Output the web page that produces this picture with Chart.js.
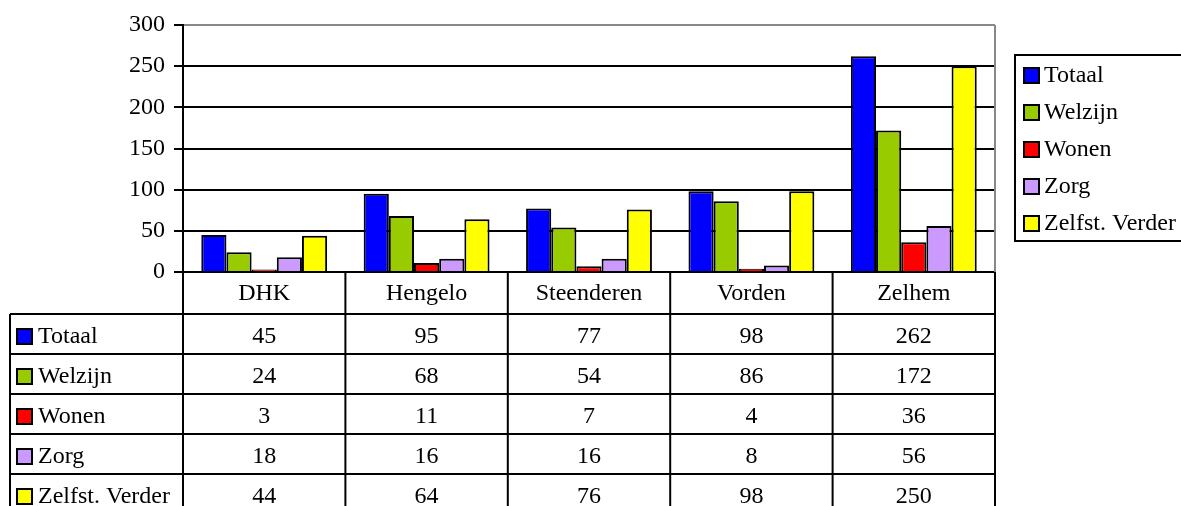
<!DOCTYPE html>
<html>
<head>
<meta charset="utf-8">
<script src="https://cdn.jsdelivr.net/npm/chart.js@4"></script>
<style>
  html, body { margin: 0; padding: 0; background: #fff; }
  #wrap { width: 1181px; height: 506px; position: relative; }
</style>
</head>
<body>
<div id="wrap"><canvas id="chart" width="1181" height="506"></canvas></div>
<script>
// Chart data
const categories = ['DHK', 'Hengelo', 'Steenderen', 'Vorden', 'Zelhem'];
const totaal = [45, 95, 77, 98, 262];
const welzijn = [24, 68, 54, 86, 172];
const wonen = [3, 11, 7, 4, 36];
const zorg = [18, 16, 16, 8, 56];
const zelfstVerder = [44, 64, 76, 98, 250];
const seriesNames = ['Totaal', 'Welzijn', 'Wonen', 'Zorg', 'Zelfst. Verder'];
const seriesColors = ['#0000FF', '#99CC00', '#FF0000', '#CC99FF', '#FFFF00'];
const yTicks = [0, 50, 100, 150, 200, 250, 300];

const seriesData = [totaal, welzijn, wonen, zorg, zelfstVerder];
const FAMILY = "'Liberation Serif', 'Times New Roman', serif";
const FONT = '24px ' + FAMILY;

// Data table under the plot + legend box on the right
const tablePlugin = {
  id: 'dataTable',
  afterDraw(chart) {
    const ctx = chart.ctx;
    const area = chart.chartArea;
    const xs = chart.scales.x;
    const half = (area.right - area.left) / categories.length / 2;
    const headerBottom = area.bottom + 42;
    const rowH = 40;
    const tableLeft = 10;
    const tableBottom = chart.height + 10;

    ctx.save();
    // gray plot border on the right
    ctx.strokeStyle = '#888';
    ctx.lineWidth = 2;
    ctx.beginPath();
    ctx.moveTo(area.right, area.top);
    ctx.lineTo(area.right, area.bottom);
    ctx.stroke();

    ctx.strokeStyle = '#000';
    ctx.lineWidth = 2;
    ctx.beginPath();
    // column dividers
    for (let i = 0; i <= categories.length; i++) {
      const x = i < categories.length ? xs.getPixelForTick(i) - half : xs.getPixelForTick(i - 1) + half;
      ctx.moveTo(x, area.bottom);
      ctx.lineTo(x, tableBottom);
    }
    ctx.moveTo(tableLeft, headerBottom);
    ctx.lineTo(tableLeft, tableBottom);
    // row lines
    for (let r = 0; r < seriesData.length; r++) {
      const y = headerBottom + r * rowH;
      ctx.moveTo(tableLeft, y);
      ctx.lineTo(area.right, y);
    }
    ctx.stroke();

    ctx.font = FONT;
    ctx.fillStyle = '#000';
    ctx.textAlign = 'center';
    ctx.textBaseline = 'middle';
    categories.forEach((c, i) => {
      ctx.fillText(c, xs.getPixelForTick(i), (area.bottom + headerBottom) / 2 + 1);
    });

    seriesData.forEach((vals, r) => {
      const yMid = headerBottom + r * rowH + rowH / 2 + 3;
      // key square + name
      ctx.fillStyle = seriesColors[r];
      ctx.fillRect(tableLeft + 7, yMid - 8, 15, 15);
      ctx.strokeRect(tableLeft + 7, yMid - 8, 15, 15);
      ctx.fillStyle = '#000';
      ctx.textAlign = 'left';
      ctx.fillText(seriesNames[r], tableLeft + 28, yMid);
      ctx.textAlign = 'center';
      vals.forEach((v, i) => {
        ctx.fillText(String(v), xs.getPixelForTick(i), yMid);
      });
    });

    // legend box
    const lx = 1015, ly = 55, lw = 180, lh = 186;
    ctx.fillStyle = '#fff';
    ctx.fillRect(lx, ly, lw, lh);
    ctx.strokeRect(lx, ly, lw, lh);
    seriesNames.forEach((name, i) => {
      const cy = ly + 20 + i * 37;
      ctx.fillStyle = seriesColors[i];
      ctx.fillRect(lx + 9, cy - 7, 15, 15);
      ctx.strokeRect(lx + 9, cy - 7, 15, 15);
      ctx.fillStyle = '#000';
      ctx.textAlign = 'left';
      ctx.fillText(name, lx + 29, cy + 1);
    });
    ctx.restore();
  }
};

const ctx = document.getElementById('chart').getContext('2d');
const chart = new Chart(ctx, {
  type: 'bar',
  data: {
    labels: categories,
    datasets: seriesData.map((d, i) => ({
      label: seriesNames[i],
      data: d,
      backgroundColor: seriesColors[i],
      borderColor: '#000',
      borderWidth: { top: 2, bottom: 0, left: 2, right: 2 },
      borderSkipped: false,
      inflateAmount: 0,
      barPercentage: 1,
      categoryPercentage: 0.775
    }))
  },
  options: {
    responsive: false,
    animation: false,
    layout: { padding: { top: 25, right: 186, bottom: 234, left: 0 } },
    scales: {
      x: { display: false },
      y: {
        min: 0,
        max: 300,
        afterBuildTicks: s => { s.ticks = yTicks.map(v => ({ value: v })); },
        afterFit: s => { s.width = 183; },
        border: { display: true, color: '#000', width: 2 },
        grid: {
          color: c => (c.tick && c.tick.value === 300 ? '#888' : '#000'),
          lineWidth: 2,
          tickLength: 9,
          tickColor: '#000'
        },
        ticks: {
          color: '#000',
          padding: 9,
          font: { family: FAMILY, size: 24 }
        }
      }
    },
    plugins: {
      legend: { display: false },
      tooltip: { enabled: false }
    }
  },
  plugins: [tablePlugin]
});
</script>
</body>
</html>
